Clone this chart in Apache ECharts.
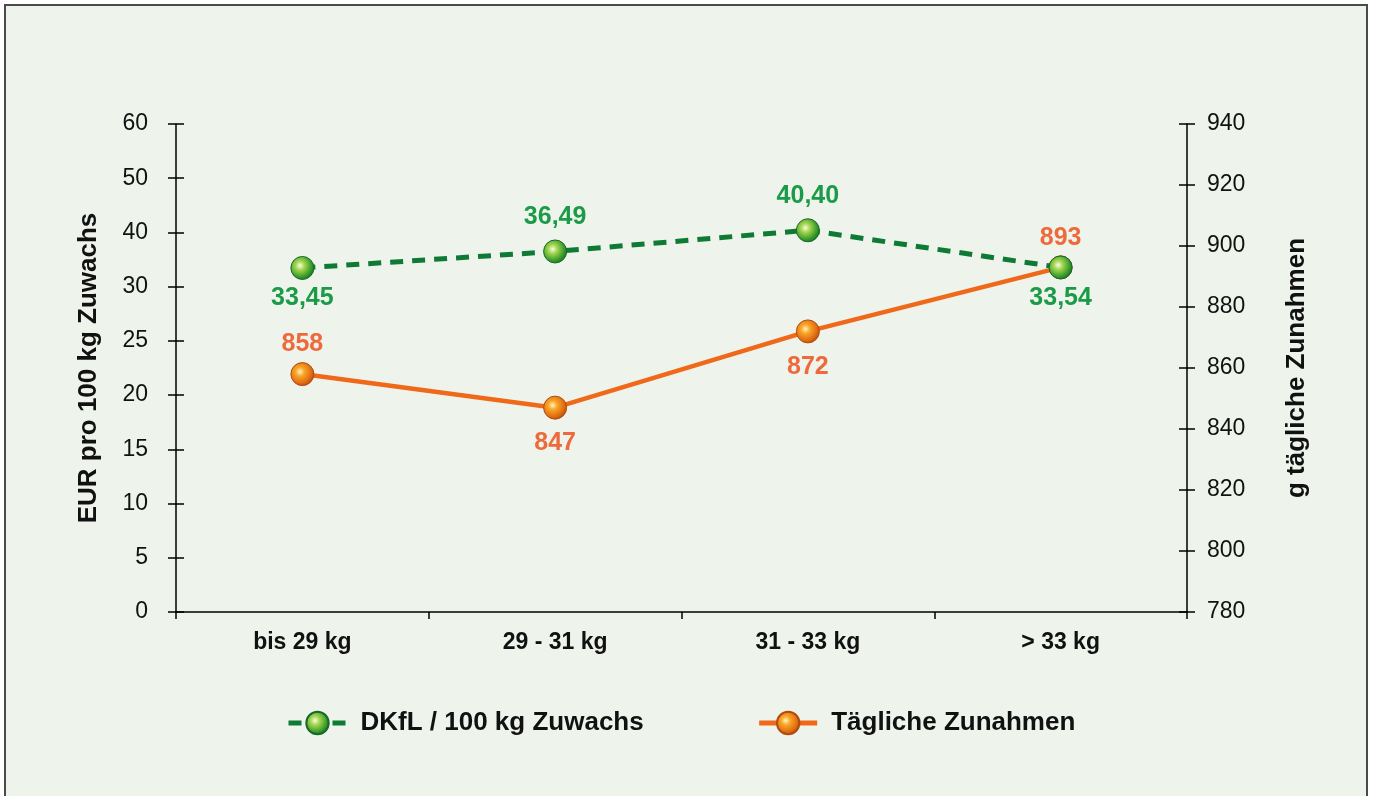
<!DOCTYPE html>
<html>
<head>
<meta charset="utf-8">
<script src="https://cdn.jsdelivr.net/npm/echarts@6/dist/echarts.min.js"></script>
<style>
  html, body { margin: 0; padding: 0; background: #fff; }
  #main { width: 1376px; height: 796px; }
</style>
</head>
<body>
<div id="main"></div>
<script>
var categories = ['bis 29 kg', '29 - 31 kg', '31 - 33 kg', '> 33 kg'];
var dkfl = [33.45, 36.49, 40.40, 33.54];
var zunahmen = [858, 847, 872, 893];
// left axis labels are evenly spaced, but not linear (5 steps up to 30, then 10)
var leftTicks = [0, 5, 10, 15, 20, 25, 30, 40, 50, 60];
var rightTicks = [780, 800, 820, 840, 860, 880, 900, 920, 940];

var dkflLabelPos = ['bottom', 'top', 'top', 'bottom'];
var zunLabelPos = ['top', 'bottom', 'bottom', 'top'];

var font = "'Liberation Sans', Arial, sans-serif";
var green = '#0f7a35';
var greenText = '#1b9a48';
var orange = '#f0681a';
var orangeText = '#ee6a3c';

// place a value on the left axis scale (tick index units)
var toLeftScale = function(v) {
    for (var i = 0; i < leftTicks.length - 1; i++) {
        if (v <= leftTicks[i + 1]) {
            return i + (v - leftTicks[i]) / (leftTicks[i + 1] - leftTicks[i]);
        }
    }
    return leftTicks.length - 1;
};

var greenBall = new echarts.graphic.RadialGradient(0.4, 0.4, 0.62, [
    {offset: 0, color: '#f6fce8'},
    {offset: 0.3, color: '#a6d650'},
    {offset: 0.78, color: '#379a2a'},
    {offset: 1, color: '#1d7524'}
]);
var orangeBall = new echarts.graphic.RadialGradient(0.4, 0.4, 0.62, [
    {offset: 0, color: '#fff4c4'},
    {offset: 0.3, color: '#f9a626'},
    {offset: 0.78, color: '#e06a12'},
    {offset: 1, color: '#b5500e'}
]);

var dkflData = dkfl.map(function(v, i) {
    return {
        value: toLeftScale(v),
        raw: v,
        label: {position: dkflLabelPos[i], distance: dkflLabelPos[i] === 'top' ? 10 : 6}
    };
});
var zunData = zunahmen.map(function(v, i) {
    return {
        value: v,
        label: {position: zunLabelPos[i], distance: zunLabelPos[i] === 'top' ? 5 : 11}
    };
});

var chart = echarts.init(document.getElementById('main'));
var option = {
    animation: false,
    backgroundColor: '#ffffff',
    textStyle: {fontFamily: font},
    graphic: [{
        type: 'rect',
        z: -10,
        shape: {x: 5, y: 5, width: 1362, height: 800},
        style: {fill: '#eef4eb', stroke: '#4a4a4a', lineWidth: 2}
    }],
    grid: {left: 176, right: 189, top: 124, bottom: 184},
    legend: {
        left: 281,
        top: 705,
        itemWidth: 58,
        itemHeight: 28,
        itemGap: 113,
        data: ['DKfL / 100 kg Zuwachs', 'Tägliche Zunahmen'],
        lineStyle: {width: 5},
        textStyle: {fontFamily: font, fontSize: 26, fontWeight: 'bold', color: '#111', padding: [0, 0, 0, 9]}
    },
    xAxis: {
        type: 'category',
        data: categories,
        boundaryGap: true,
        axisLine: {lineStyle: {color: '#000', width: 1.5}},
        axisTick: {show: true, length: 7, lineStyle: {color: '#000', width: 1.5}},
        axisLabel: {color: '#111', fontSize: 23, fontWeight: 'bold', fontFamily: font, margin: 19}
    },
    yAxis: [{
        type: 'value',
        position: 'left',
        min: 0,
        max: leftTicks.length - 1,
        interval: 1,
        name: 'EUR pro 100 kg Zuwachs',
        nameLocation: 'middle',
        nameRotate: 90,
        nameGap: 74,
        nameTextStyle: {fontFamily: font, fontSize: 26, fontWeight: 'bold', color: '#111'},
        axisLine: {show: true, lineStyle: {color: '#000', width: 1.5}},
        axisTick: {show: true, length: 8, lineStyle: {color: '#000', width: 1.5}},
        axisLabel: {
            color: '#111', fontSize: 23, fontFamily: font, margin: 28,
            formatter: function(v) { return leftTicks[Math.round(v)]; }
        },
        splitLine: {show: false}
    }, {
        type: 'value',
        position: 'right',
        min: rightTicks[0],
        max: rightTicks[rightTicks.length - 1],
        interval: 20,
        name: 'g tägliche Zunahmen',
        nameLocation: 'middle',
        nameRotate: 90,
        nameGap: 97,
        nameTextStyle: {fontFamily: font, fontSize: 26, fontWeight: 'bold', color: '#111'},
        axisLine: {show: true, lineStyle: {color: '#000', width: 1.5}},
        axisTick: {show: true, length: 8, lineStyle: {color: '#000', width: 1.5}},
        axisLabel: {color: '#111', fontSize: 23, fontFamily: font, margin: 20},
        splitLine: {show: false}
    }, {
        // inner half of the crossing ticks, left
        type: 'value', position: 'left', min: 0, max: leftTicks.length - 1, interval: 1,
        axisLine: {show: false},
        axisTick: {show: true, inside: true, length: 8, lineStyle: {color: '#000', width: 1.5}},
        axisLabel: {show: false},
        splitLine: {show: false}
    }, {
        // inner half of the crossing ticks, right
        type: 'value', position: 'right', min: rightTicks[0], max: rightTicks[rightTicks.length - 1], interval: 20,
        axisLine: {show: false},
        axisTick: {show: true, inside: true, length: 8, lineStyle: {color: '#000', width: 1.5}},
        axisLabel: {show: false},
        splitLine: {show: false}
    }],
    series: [{
        name: 'Tägliche Zunahmen',
        type: 'line',
        yAxisIndex: 1,
        z: 2,
        data: zunData,
        symbol: 'circle',
        symbolSize: 23,
        lineStyle: {color: orange, width: 4.5},
        itemStyle: {color: orangeBall, borderColor: '#b04c10', borderWidth: 1},
        label: {
            show: true,
            color: orangeText,
            fontSize: 25,
            fontWeight: 'bold',
            fontFamily: font
        }
    }, {
        name: 'DKfL / 100 kg Zuwachs',
        type: 'line',
        yAxisIndex: 0,
        z: 3,
        data: dkflData,
        symbol: 'circle',
        symbolSize: 23,
        lineStyle: {color: green, width: 5, type: [13, 9]},
        itemStyle: {color: greenBall, borderColor: '#17692a', borderWidth: 1},
        label: {
            show: true,
            color: greenText,
            fontSize: 25,
            fontWeight: 'bold',
            fontFamily: font,
            formatter: function(p) { return p.data.raw.toFixed(2).replace('.', ','); }
        }
    }]
};
chart.setOption(option);
</script>
</body>
</html>
